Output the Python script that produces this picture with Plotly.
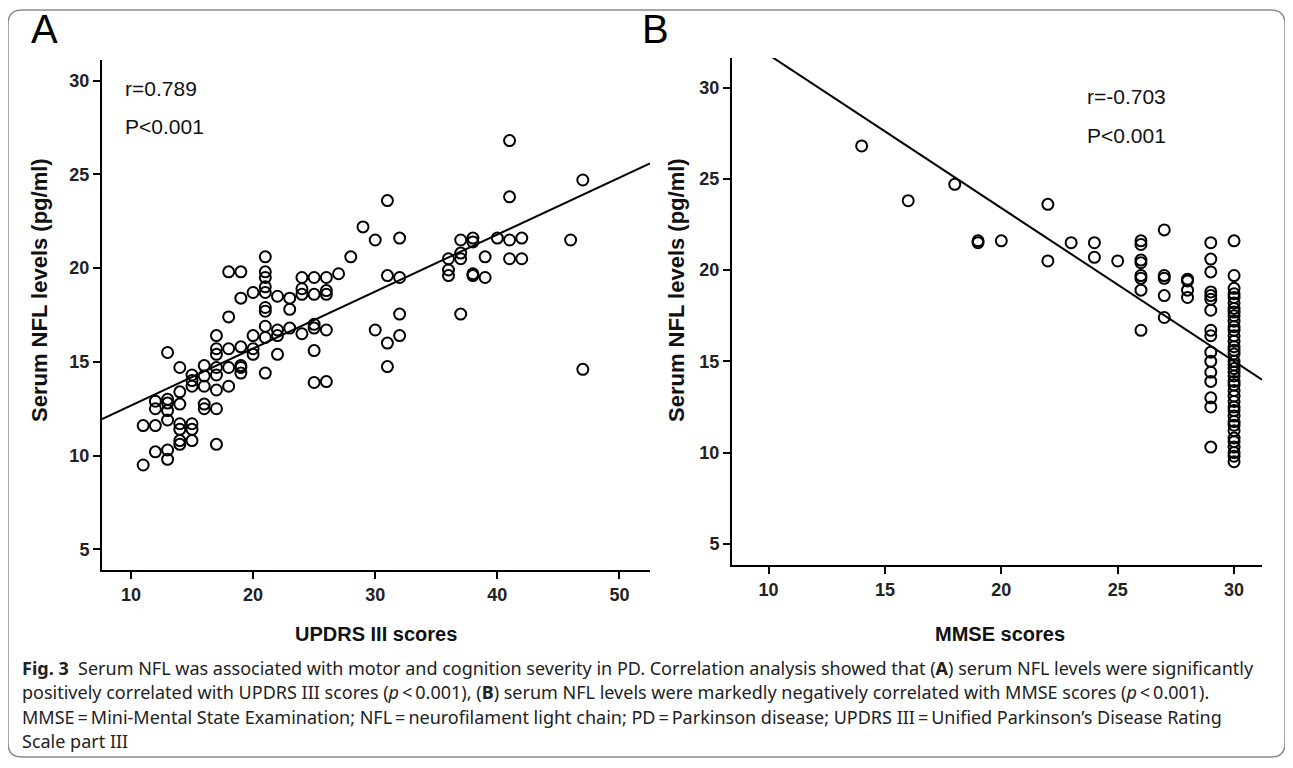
import plotly.graph_objects as go

# ---------------- Data ----------------
# Panel A: UPDRS III score vs serum NFL (pg/ml)
updrs_x = (
    [11]*2 + [12]*4 + [13]*7 + [14]*7 + [15]*6 + [16]*5 + [17]*8 + [18]*5 + [19]*6 + [20]*4 +
    [21]*10 + [22]*4 + [23]*3 + [24]*4 + [25]*6 + [26]*5 + [27] + [28] + [29] + [30]*2 +
    [31]*4 + [32]*4 + [36]*3 + [37]*4 + [38]*4 + [39]*2 + [40] + [41]*4 + [42]*2 + [46] + [47]*2
)
nfl_a = [
    11.6, 9.5,
    12.9, 12.5, 11.6, 10.2,
    15.5, 13.0, 12.8, 12.4, 11.9, 10.3, 9.8,
    14.7, 13.4, 12.75, 11.7, 11.4, 10.8, 10.6,
    14.3, 14.0, 13.7, 11.7, 11.4, 10.8,
    14.8, 14.25, 13.7, 12.75, 12.5,
    16.4, 15.7, 15.4, 14.7, 14.3, 13.5, 12.5, 10.6,
    19.8, 17.4, 15.7, 14.7, 13.7,
    19.8, 18.4, 15.8, 14.8, 14.7, 14.4,
    18.7, 16.4, 15.7, 15.4,
    20.6, 19.8, 19.5, 19.0, 18.7, 17.9, 17.7, 16.9, 16.3, 14.4,
    18.5, 16.7, 16.4, 15.4,
    18.4, 17.8, 16.8,
    19.5, 18.9, 18.6, 16.5,
    19.5, 18.6, 17.0, 16.8, 15.6, 13.9,
    19.5, 18.8, 18.6, 16.7, 13.95,
    19.7,
    20.6,
    22.2,
    21.5, 16.7,
    23.6, 19.6, 16.0, 14.75,
    21.6, 19.5, 17.55, 16.4,
    20.5, 19.9, 19.6,
    21.5, 20.8, 20.5, 17.55,
    21.6, 21.4, 19.7, 19.6,
    20.6, 19.5,
    21.6,
    26.8, 23.8, 21.5, 20.5,
    21.6, 20.5,
    21.5,
    24.7, 14.6,
]

# Panel B: MMSE score vs serum NFL (pg/ml)
mmse_x = (
    [14] + [16] + [18] + [19]*2 + [20] + [22]*2 + [23] + [24]*2 + [25] + [26]*8 + [27]*5 +
    [28]*4 + [29]*16 + [30]*39
)
nfl_b = [
    26.8,
    23.8,
    24.7,
    21.6, 21.5,
    21.6,
    23.6, 20.5,
    21.5,
    21.5, 20.7,
    20.5,
    21.6, 21.4, 20.55, 20.4, 19.7, 19.55, 18.9, 16.7,
    22.2, 19.7, 19.55, 18.6, 17.4,
    19.5, 19.4, 18.9, 18.5,
    21.5, 20.6, 19.9, 18.8, 18.6, 18.4, 17.8, 16.7, 16.4, 15.5, 15.0, 14.4, 13.9, 13.0, 12.5, 10.3,
    21.6, 19.7, 19.0, 18.7, 18.5, 18.2, 17.9, 17.7, 17.5, 17.2, 16.9, 16.7, 16.4, 16.1, 15.8,
    15.6, 15.4, 15.0, 14.8, 14.6, 14.4, 14.2, 13.9, 13.7, 13.4, 13.1, 12.8, 12.5, 12.3, 12.0,
    11.7, 11.5, 11.2, 10.8, 10.6, 10.3, 10.0, 9.8, 9.5,
]

# Fit lines (intercept, slope)
fit_a = (9.63, 0.304)
fit_b = (40.2, -0.84)

stats_a = ["r=0.789", "P<0.001"]
stats_b = ["r=-0.703", "P<0.001"]

xticks_a = [10, 20, 30, 40, 50]
xticks_b = [10, 15, 20, 25, 30]
yticks = [5, 10, 15, 20, 25, 30]

xrange_a = [7.63, 52.5]
yrange_a = [3.9, 31.1]
xrange_b = [8.43, 31.2]
yrange_b = [3.84, 31.62]

# ---------------- Figure ----------------
# the page body adds an 8px margin, so the figure is 8px smaller and positions are shifted
OFF = 8
W, H = 1293 - OFF, 768 - OFF


def px(x):
    return (x - OFF) / W


def py(y):
    return 1 - (y - OFF) / H


fig = go.Figure()

marker = dict(symbol="circle-open", size=11, color="black", line=dict(width=2, color="black"))

fig.add_trace(go.Scatter(x=updrs_x, y=nfl_a, mode="markers", marker=marker,
                         xaxis="x", yaxis="y", showlegend=False))
fig.add_trace(go.Scatter(x=xrange_a, y=[fit_a[0] + fit_a[1] * v for v in xrange_a], mode="lines",
                         line=dict(color="black", width=2), xaxis="x", yaxis="y", showlegend=False))
fig.add_trace(go.Scatter(x=mmse_x, y=nfl_b, mode="markers", marker=marker,
                         xaxis="x2", yaxis="y2", showlegend=False))
fig.add_trace(go.Scatter(x=xrange_b, y=[fit_b[0] + fit_b[1] * v for v in xrange_b], mode="lines",
                         line=dict(color="black", width=2), xaxis="x2", yaxis="y2", showlegend=False))

tickfont = dict(family="Liberation Sans Narrow, Arial Narrow, Liberation Sans", size=18,
                color="#222", weight="bold")
axis_common = dict(showline=True, linewidth=2, linecolor="black", ticks="outside", ticklen=7,
                   tickwidth=2, tickcolor="black", showgrid=False, zeroline=False,
                   tickfont=tickfont, fixedrange=True)

fig.update_layout(
    width=W, height=H,
    margin=dict(l=0, r=0, t=0, b=0),
    paper_bgcolor="white", plot_bgcolor="white",
    xaxis=dict(domain=[px(102), px(650)], range=xrange_a, tickvals=xticks_a, anchor="y", **axis_common),
    yaxis=dict(domain=[py(570), py(60)], range=yrange_a, tickvals=yticks, anchor="x", **axis_common),
    xaxis2=dict(domain=[px(732), px(1262)], range=xrange_b, tickvals=xticks_b, anchor="y2", **axis_common),
    yaxis2=dict(domain=[py(565), py(58)], range=yrange_b, tickvals=yticks, anchor="x2", **axis_common),
)

ann = []


def add_text(text, x, y, font, xanchor="center", angle=0):
    ann.append(dict(text=text, x=px(x), y=py(y), xref="paper", yref="paper", showarrow=False,
                    font=font, xanchor=xanchor, yanchor="middle", textangle=angle, align="left"))


lab_font = dict(family="Liberation Sans, Arial", size=40, color="black")
add_text("A", 44, 29, lab_font)
add_text("B", 655, 29, lab_font)

st_font = dict(family="Liberation Sans, Arial", size=21, color="#111")
add_text(stats_a[0], 123, 88, st_font, "left")
add_text(stats_a[1], 123, 127, st_font, "left")
add_text(stats_b[0], 1085, 97, st_font, "left")
add_text(stats_b[1], 1085, 135, st_font, "left")

title_font = dict(family="Liberation Sans, Arial", size=20, color="#111", weight="bold")
ytitle_font = dict(family="Liberation Sans, Arial", size=22, color="#111", weight="bold")
add_text("Serum NFL levels (pg/ml)", 40, 290, ytitle_font, angle=-90)
add_text("Serum NFL levels (pg/ml)", 677, 290, ytitle_font, angle=-90)
add_text("UPDRS III scores", 376, 634, title_font)
add_text("MMSE scores", 1000, 634, title_font)

caption_lines = [
    "<b>Fig. 3</b>  Serum NFL was associated with motor and cognition severity in PD. Correlation analysis showed that (<b>A</b>) serum NFL levels were significantly",
    "positively correlated with UPDRS III scores (<i>p</i>\u2009<\u20090.001), (<b>B</b>) serum NFL levels were markedly negatively correlated with MMSE scores (<i>p</i>\u2009<\u20090.001).",
    "MMSE\u2009=\u2009Mini-Mental State Examination; NFL\u2009=\u2009neurofilament light chain; PD\u2009=\u2009Parkinson disease; UPDRS III\u2009=\u2009Unified Parkinson\u2019s Disease Rating",
    "Scale part III",
]
cap_font = dict(family="Noto Sans, Open Sans, sans-serif", size=18, color="#222")
for i, line in enumerate(caption_lines):
    add_text(line, 20, 668 + 24.3 * i, cap_font, "left")

fig.update_layout(annotations=ann)

# rounded border box around the whole figure
x0, x1 = px(8), px(1285)
y0, y1 = py(757), py(10)
rx, ry = 14 / W, 14 / H
path = (f"M {x0+rx},{y1} L {x1-rx},{y1} Q {x1},{y1} {x1},{y1-ry} L {x1},{y0+ry} "
        f"Q {x1},{y0} {x1-rx},{y0} L {x0+rx},{y0} Q {x0},{y0} {x0},{y0+ry} "
        f"L {x0},{y1-ry} Q {x0},{y1} {x0+rx},{y1} Z")
fig.add_shape(type="path", path=path, xref="paper", yref="paper",
              line=dict(color="#8a8a8a", width=1.5), fillcolor="rgba(0,0,0,0)", layer="below")

fig.write_html("out.html")
